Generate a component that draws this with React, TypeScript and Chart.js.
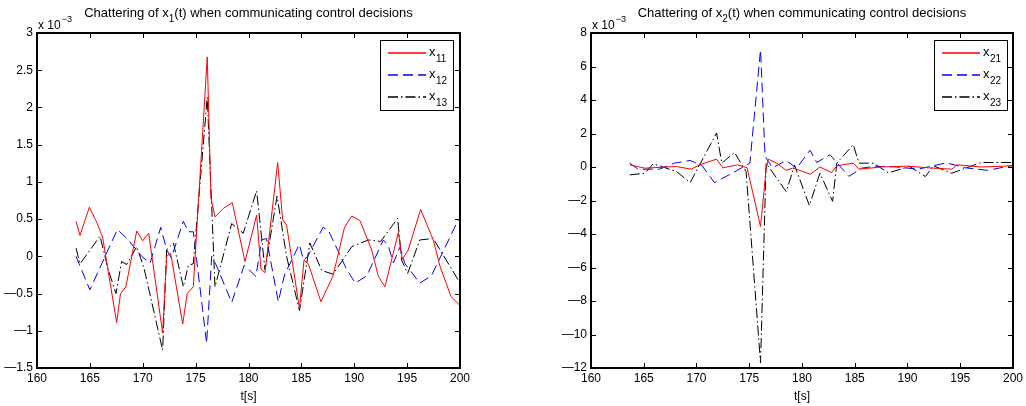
import React, { useEffect, useRef } from 'react';
import { Chart, registerables } from 'chart.js';
Chart.register(...registerables);

// ---------- data (values in units of 1e-3) ----------
const X_MIN = 160;
const X_MAX = 200;
const X_STEP = 5;

// left panel: x1
const T11 = [163.69, 164.07, 164.95, 165.64, 166.2, 167.53, 167.9, 168.4, 169.43, 170.0, 170.56, 171.88, 172.26, 172.64, 173.78, 174.2, 174.78, 176.1, 176.45, 176.83, 177.62, 178.47, 179.67, 180.77, 181.18, 181.56, 182.76, 183.23, 183.6, 184.82, 185.25, 185.66, 186.85, 188.0, 189.08, 189.76, 190.54, 191.65, 192.28, 192.9, 194.17, 194.55, 195.1, 196.28, 197.47, 198.1, 199.15, 200];
const V11 = [0.47, 0.28, 0.66, 0.46, 0.26, -0.89, -0.5, -0.41, 0.34, 0.21, 0.31, -1.03, 0.0, 0.04, -0.91, -0.5, -0.41, 2.68, 0.78, 0.53, 0.645, 0.72, -0.07, 0.555, -0.17, -0.22, 1.26, 0.49, 0.42, -0.7, -0.05, -0.1, -0.61, -0.26, 0.39, 0.54, 0.48, 0.085, -0.27, -0.41, 0.32, -0.04, 0.085, 0.63, 0.22, -0.13, -0.54, -0.66];

const T12 = [163.69, 165.0, 167.6, 168.64, 169.9, 170.7, 171.7, 172.26, 172.7, 173.84, 174.31, 174.78, 176.04, 176.52, 176.99, 178.41, 179.6, 180.7, 181.25, 181.7, 182.82, 183.4, 184.8, 185.2, 185.6, 187.05, 187.55, 189.3, 190.1, 191.2, 192.75, 193.2, 193.7, 194.3, 194.8, 196.2, 197.3, 199.84, 200];
const V12 = [0.0, -0.45, 0.36, 0.22, 0.0, -0.09, 0.39, 0.09, -0.02, 0.47, 0.33, 0.33, -1.17, 0.0, -0.13, -0.62, -0.12, -0.27, 0.22, 0.24, -0.61, -0.25, 0.16, -0.05, 0.0, 0.39, 0.35, -0.18, -0.36, -0.26, 0.22, 0.15, -0.09, 0.12, -0.1, -0.36, -0.26, 0.49, 0.5];

const T13 = [163.69, 164.07, 165.96, 166.74, 167.47, 168.0, 168.48, 169.43, 170.12, 171.88, 172.26, 172.9, 173.84, 174.31, 174.78, 176.1, 176.83, 178.41, 179.5, 180.77, 181.56, 182.7, 183.6, 184.82, 185.8, 186.92, 188.0, 189.76, 191.33, 192.5, 194.1, 194.48, 195.05, 196.2, 197.47, 199.84, 200];
const V13 = [0.11, -0.1, 0.27, -0.18, -0.5, -0.07, -0.11, 0.13, -0.16, -1.26, 0.09, 0.18, -0.41, -0.12, -0.1, 2.14, -0.41, 0.44, 0.31, 0.88, -0.18, 0.81, 0.0, -0.73, 0.18, -0.19, -0.24, 0.13, 0.22, 0.2, 0.51, -0.05, -0.23, 0.22, 0.24, -0.32, -0.35];

// right panel: x2
const T21 = [163.67, 165.1, 168.1, 169.5, 170.3, 171.9, 172.5, 173.9, 174.8, 176.07, 176.6, 176.8, 177.6, 178.5, 179.1, 179.64, 180.8, 181.7, 182.8, 183.3, 184.86, 185.4, 187.5, 190.0, 192.0, 194.2, 194.7, 197.0, 200];
const V21 = [0.13, -0.07, 0.03, -0.13, 0.13, 0.47, -0.05, 0.13, -0.05, -3.56, -0.13, 0.47, 0.23, -0.2, -0.07, -0.17, -0.43, 0.0, -0.33, 0.07, 0.23, -0.13, 0.0, 0.05, -0.05, -0.13, 0.13, 0.0, 0.07];

const T22 = [163.67, 164.46, 166.5, 167.9, 169.4, 170.5, 171.7, 173.5, 175.06, 176.07, 176.5, 177.2, 178.5, 179.5, 180.75, 181.4, 182.65, 184.45, 185.65, 187.0, 189.0, 191.0, 193.7, 195.5, 197.6, 200];
const V22 = [0.23, -0.13, -0.13, 0.23, 0.39, 0.1, -0.93, -0.33, 0.23, 7.0, 0.63, -0.05, 0.39, -0.07, 1.0, 0.27, 0.73, -0.56, -0.07, 0.05, 0.0, -0.13, 0.25, -0.05, -0.2, 0.1];

const T23 = [163.67, 165.1, 165.9, 168.1, 169.4, 171.9, 172.4, 173.6, 174.7, 176.07, 176.6, 178.5, 179.3, 180.7, 181.7, 182.9, 183.3, 184.86, 185.4, 186.75, 188.2, 190.2, 191.7, 192.45, 194.2, 197.0, 200];
const V23 = [-0.47, -0.37, 0.19, -0.27, -0.93, 2.03, 0.23, 0.87, -0.27, -11.7, 0.23, -1.47, 0.1, -2.3, -0.37, -2.05, 0.23, 1.33, 0.23, 0.23, -0.35, 0.03, -0.57, 0.07, -0.37, 0.27, 0.27];

const LEFT_Y = { min: -1.5, max: 3, step: 0.5 };
const RIGHT_Y = { min: -12, max: 8, step: 2 };

const LEFT_TITLE = ['Chattering of x', '1', '(t) when communicating control decisions'];
const RIGHT_TITLE = ['Chattering of x', '2', '(t) when communicating control decisions'];
const LEFT_SUBS = ['11', '12', '13'];
const RIGHT_SUBS = ['21', '22', '23'];
const X_LABEL = 't[s]';
const EXPONENT = '\u22123';

const COLORS = ['#ff0000', '#0000ff', '#000000'];
const DASHES: number[][] = [[], [10, 5], [10, 3, 1.5, 3]];

const FONT = '"Liberation Sans", Arial, Helvetica, sans-serif';

const pts = (t: number[], v: number[]) => t.map((x, i) => ({ x, y: v[i] }));
const fmt = (v: number) => {
  const r = Math.round(v * 100) / 100;
  return r < 0 ? '\u2014' + String(-r) : String(r);
};

const decoPlugin = {
  id: 'deco',
  afterDraw(chart: any) {
    const o = chart.options.plugins.deco;
    const { ctx, chartArea: a, scales } = chart;
    ctx.save();
    // inward ticks on all four sides
    ctx.strokeStyle = '#000';
    ctx.lineWidth = 1;
    ctx.setLineDash([]);
    ctx.beginPath();
    const L = 5;
    scales.x.ticks.forEach((t: any) => {
      const p = Math.round(scales.x.getPixelForValue(t.value)) + 0.5;
      ctx.moveTo(p, a.bottom); ctx.lineTo(p, a.bottom - L);
      ctx.moveTo(p, a.top); ctx.lineTo(p, a.top + L);
    });
    scales.y.ticks.forEach((t: any) => {
      const p = Math.round(scales.y.getPixelForValue(t.value)) + 0.5;
      ctx.moveTo(a.left, p); ctx.lineTo(a.left + L, p);
      ctx.moveTo(a.right, p); ctx.lineTo(a.right - L, p);
    });
    ctx.stroke();
    // frame
    ctx.lineWidth = 2;
    ctx.strokeRect(Math.round(a.left), Math.round(a.top), Math.round(a.right - a.left), Math.round(a.bottom - a.top));

    // title with subscript
    ctx.fillStyle = '#000';
    ctx.textBaseline = 'alphabetic';
    ctx.textAlign = 'left';
    const big = `13px ${FONT}`;
    const small = `10px ${FONT}`;
    const [t1, ts, t2] = o.title;
    ctx.font = big; const w1 = ctx.measureText(t1).width; const w2 = ctx.measureText(t2).width;
    ctx.font = small; const ws = ctx.measureText(ts).width;
    const total = w1 + ws + w2;
    let x = (a.left + a.right) / 2 - total / 2;
    const ty = 17;
    ctx.font = big; ctx.fillText(t1, x, ty); x += w1;
    ctx.font = small; ctx.fillText(ts, x, ty + 5); x += ws;
    ctx.font = big; ctx.fillText(t2, x, ty);

    // exponent label
    ctx.font = `12px ${FONT}`;
    const e1 = 'x 10';
    ctx.fillText(e1, a.left + 1, a.top - 4);
    const we = ctx.measureText(e1).width;
    ctx.font = `9px ${FONT}`;
    ctx.fillText(o.exp, a.left + 1 + we + 1, a.top - 11);

    // legend
    const lg = o.legend;
    ctx.fillStyle = '#fff';
    ctx.fillRect(lg.x, lg.y, lg.w, lg.h);
    ctx.strokeStyle = '#000';
    ctx.lineWidth = 1;
    ctx.strokeRect(lg.x + 0.5, lg.y + 0.5, lg.w, lg.h);
    o.subs.forEach((sub: string, i: number) => {
      const yy = lg.y + 13 + i * 22;
      ctx.strokeStyle = COLORS[i];
      ctx.setLineDash(DASHES[i]);
      ctx.lineWidth = 1.3;
      ctx.beginPath();
      ctx.moveTo(lg.x + 8, yy);
      ctx.lineTo(lg.x + 46, yy);
      ctx.stroke();
      ctx.setLineDash([]);
      ctx.fillStyle = '#000';
      ctx.font = big;
      ctx.fillText('x', lg.x + 49, yy + 3);
      const wx = ctx.measureText('x').width;
      ctx.font = small;
      ctx.fillText(sub, lg.x + 49 + wx + 0.5, yy + 9);
    });
    ctx.restore();
  },
};

type PanelProps = {
  series: { t: number[]; v: number[] }[];
  subs: string[];
  title: string[];
  y: { min: number; max: number; step: number };
  area: { left: number; right: number; top: number; bottom: number };
  legend: { x: number; y: number; w: number; h: number };
  width: number;
  height: number;
};

function Panel(p: PanelProps) {
  const ref = useRef<HTMLCanvasElement | null>(null);
  useEffect(() => {
    if (!ref.current) return;
    const chart = new Chart(ref.current, {
      type: 'line',
      data: {
        datasets: p.series.map((s, i) => ({
          label: 'x' + p.subs[i],
          data: pts(s.t, s.v),
          borderColor: COLORS[i],
          borderDash: DASHES[i],
          borderWidth: 1,
          pointRadius: 0,
          fill: false,
          tension: 0,
        })),
      },
      options: {
        animation: false,
        responsive: false,
        devicePixelRatio: 1,
        layout: { padding: { left: 0, right: p.width - p.area.right, top: p.area.top, bottom: 0 } },
        plugins: {
          legend: { display: false },
          title: { display: false },
          tooltip: { enabled: false },
          deco: { title: p.title, subs: p.subs, legend: p.legend, exp: EXPONENT },
        } as any,
        scales: {
          x: {
            type: 'linear',
            min: X_MIN,
            max: X_MAX,
            ticks: { stepSize: X_STEP, color: '#000', font: { family: FONT, size: 12 }, padding: 3, maxRotation: 0, autoSkip: false },
            grid: { display: false, drawTicks: false },
            border: { display: false },
            title: { display: true, text: X_LABEL, color: '#000', font: { family: FONT, size: 12 }, padding: { top: 0, bottom: 2 } },
            afterFit: (s: any) => { s.height = p.height - p.area.bottom; },
          },
          y: {
            type: 'linear',
            min: p.y.min,
            max: p.y.max,
            ticks: { stepSize: p.y.step, color: '#000', font: { family: FONT, size: 12 }, padding: 4, callback: (v: any) => fmt(Number(v)) },
            grid: { display: false, drawTicks: false },
            border: { display: false },
            afterFit: (s: any) => { s.width = p.area.left; },
          },
        },
      } as any,
      plugins: [decoPlugin],
    });
    return () => chart.destroy();
  }, []);
  return <canvas ref={ref} width={p.width} height={p.height} style={{ display: 'block', width: p.width, height: p.height }} />;
}

export default function App() {
  useEffect(() => {
    document.body.style.margin = '0';
    document.body.style.background = '#fff';
  }, []);
  const H = 406;
  return (
    <div style={{ position: 'absolute', left: 0, top: 0, width: 1026, height: H, display: 'flex', background: '#fff' }}>
      <Panel
        series={[{ t: T11, v: V11 }, { t: T12, v: V12 }, { t: T13, v: V13 }]}
        subs={LEFT_SUBS}
        title={LEFT_TITLE}
        y={LEFT_Y}
        area={{ left: 37, right: 460, top: 33, bottom: 368 }}
        legend={{ x: 380, y: 40, w: 73, h: 70 }}
        width={513}
        height={H}
      />
      <Panel
        series={[{ t: T21, v: V21 }, { t: T22, v: V22 }, { t: T23, v: V23 }]}
        subs={RIGHT_SUBS}
        title={RIGHT_TITLE}
        y={RIGHT_Y}
        area={{ left: 78, right: 500, top: 33, bottom: 368 }}
        legend={{ x: 421, y: 40, w: 73, h: 70 }}
        width={513}
        height={H}
      />
    </div>
  );
}
